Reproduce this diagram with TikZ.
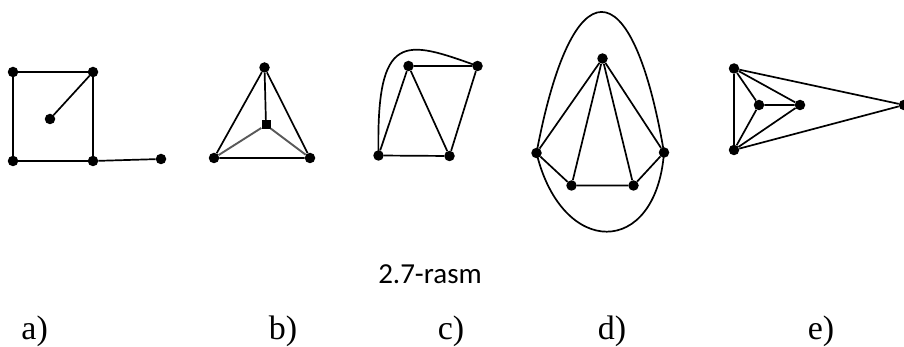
\documentclass[tikz,border=0pt]{standalone}
\usepackage{fontspec}
\setmainfont{Liberation Serif}
\newfontfamily\calfont{Carlito}
\begin{document}
\begin{tikzpicture}[x=1pt,y=-1pt,
  dot/.style={circle,fill=black,inner sep=0pt,minimum size=10.5pt},
  edge/.style={line width=1.7pt},
  soft/.style={line width=1.9pt,black!65},
  lab/.style={anchor=base,inner sep=0pt,font=\fontsize{34}{34}\selectfont},
  captxt/.style={anchor=base,inner sep=0pt,font=\calfont\fontsize{29}{29}\selectfont}]
\useasboundingbox (0,0) rectangle (904,347);
% a)
\node[dot] (a1) at (13,72) {};
\node[dot] (a2) at (93,72) {};
\node[dot] (a3) at (50,119) {};
\node[dot] (a4) at (13,161) {};
\node[dot] (a5) at (93,161) {};
\node[dot] (a6) at (161,159) {};
\draw[edge] (a1) -- (a2) -- (a5) -- (a4) -- (a1);
\draw[edge] (a3) -- (a2);
\draw[edge] (a5) -- (a6);
% b)
\node[dot] (b1) at (264.5,67.5) {};
\node[dot,rectangle,minimum size=9pt] (b2) at (266,125) {};
\node[dot] (b3) at (214,158) {};
\node[dot] (b4) at (310,158) {};
\draw[edge] (b1) -- (b3) -- (b4) -- (b1);
\draw[edge] (b1) -- (b2);
\draw[soft] (b2) -- (b3);
\draw[soft] (b2) -- (b4);
% c)
\node[dot] (c1) at (408.5,66) {};
\node[dot] (c2) at (477.5,66) {};
\node[dot] (c3) at (378.5,155.5) {};
\node[dot] (c4) at (449.5,156) {};
\draw[edge] (c1) -- (c2) -- (c4) -- (c3) -- (c1) -- (c4);
\draw[edge] (c3.center) .. controls (376,30) and (405,40) .. (c2.center);
% d)
\node[dot] (d1) at (602.5,58.5) {};
\node[dot] (d2) at (536.5,153) {};
\node[dot] (d3) at (664,152.5) {};
\node[dot] (d4) at (571.5,185.5) {};
\node[dot] (d5) at (633.5,185.5) {};
\draw[edge] (d1) -- (d2) -- (d4) -- (d5) -- (d3) -- (d1);
\draw[edge] (d1) -- (d4);
\draw[edge] (d1) -- (d5);
\draw[edge] (d2.center) .. controls (572,-35) and (632,-35) .. (d3.center);
\draw[edge] (d2.center) .. controls (562,258) and (656,258) .. (d3.center);
% e)
\node[dot] (e1) at (734,68.5) {};
\node[dot] (e2) at (759,105) {};
\node[dot] (e3) at (800,105) {};
\node[dot] (e4) at (734,150) {};
\node[dot] (e5) at (904,105) {};
\draw[edge] (e1) -- (e4);
\draw[edge] (e1) -- (e2) -- (e3) -- (e1);
\draw[edge] (e2) -- (e4) -- (e3);
\draw[edge] (e1) -- (e5) -- (e4);
% labels
\node[captxt] (cap) at (430,283) {2.7-rasm};
\node[lab] (la) at (34.7,339.5) {a)};
\node[lab] (lb) at (283,339.5) {b)};
\node[lab] (lc) at (451,339.5) {c)};
\node[lab] (ld) at (612,339.5) {d)};
\node[lab] (le) at (821,339.5) {e)};
\end{tikzpicture}
\end{document}
